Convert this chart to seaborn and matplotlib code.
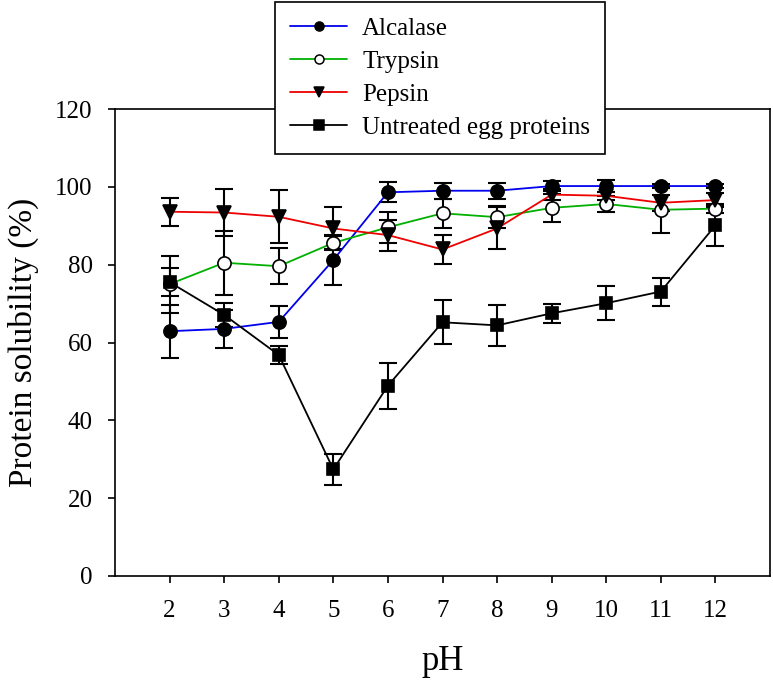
import numpy as np
import pandas as pd
import matplotlib
matplotlib.use("Agg")
import matplotlib.pyplot as plt
import seaborn as sns
from matplotlib.lines import Line2D

ph = [2, 3, 4, 5, 6, 7, 8, 9, 10, 11, 12]
alcalase = [62.9, 63.5, 65.3, 81.2, 98.6, 99.0, 99.0, 100.2, 100.2, 100.2, 100.2]
alcalase_err = [6.8, 4.8, 4.1, 6.4, 2.6, 2.0, 2.0, 1.2, 1.5, 0.6, 0.6]
trypsin = [75.0, 80.5, 79.6, 85.6, 89.6, 93.2, 92.2, 94.6, 95.6, 94.1, 94.4]
trypsin_err = [7.3, 8.2, 4.6, 1.8, 4.0, 3.8, 2.8, 3.6, 2.1, 6.0, 1.2]
pepsin = [93.6, 93.4, 92.3, 89.3, 87.6, 83.9, 89.3, 98.0, 97.7, 95.9, 96.6]
pepsin_err = [3.6, 6.1, 6.8, 5.4, 4.0, 3.7, 5.4, 1.5, 1.0, 2.0, 1.9]
untreated = [75.5, 67.1, 56.8, 27.4, 48.9, 65.2, 64.4, 67.5, 70.1, 73.1, 90.1]
untreated_err = [3.6, 3.0, 2.2, 4.0, 5.9, 5.6, 5.3, 2.4, 4.3, 3.6, 5.3]

series_names = ["Alcalase", "Trypsin", "Pepsin", "Untreated egg proteins"]
x_ticks = [2, 3, 4, 5, 6, 7, 8, 9, 10, 11, 12]
y_ticks = [0, 20, 40, 60, 80, 100, 120]

sns.set_style("ticks")
plt.rcParams["font.family"] = ["Liberation Serif", "DejaVu Serif"]
plt.rcParams["text.color"] = "black"
plt.rcParams["axes.labelcolor"] = "black"
plt.rcParams["xtick.color"] = "black"
plt.rcParams["ytick.color"] = "black"
plt.rcParams["axes.edgecolor"] = "black"

fig = plt.figure(figsize=(7.73, 6.89), dpi=100)
ax = fig.add_axes([115 / 773, 1 - 576 / 689, 655 / 773, 467 / 689])

styles = [
    (alcalase, alcalase_err, "#0000ee", "o", "black", 9.5),
    (trypsin, trypsin_err, "#00b000", "o", "white", 9.5),
    (pepsin, pepsin_err, "#ee0000", "v", "black", 9.5),
    (untreated, untreated_err, "black", "s", "black", 8.5),
]

for i, (name, (vals, err, col, mk, fc, ms)) in enumerate(zip(series_names, styles)):
    df = pd.DataFrame({"pH": ph, "val": vals})
    ax.errorbar(ph, vals, yerr=err, fmt="none", ecolor="black",
                elinewidth=1.5, capsize=6.5, capthick=1.5, zorder=2 + i * 0.1)
    sns.lineplot(data=df, x="pH", y="val", ax=ax, color=col, linewidth=1.3,
                 marker=mk, markersize=ms,
                 markerfacecolor=fc, markeredgecolor="black", markeredgewidth=1.2,
                 zorder=3 + i * 0.1, label=name, legend=False)

handles = []
for name, (vals, err, col, mk, fc, ms) in zip(series_names, styles):
    handles.append(Line2D([0], [0], color=col, lw=1.3, marker=mk, markersize=6.5,
                          markerfacecolor=fc, markeredgecolor="black", markeredgewidth=1.1))

ax.set_xlim(1, 13)
ax.set_ylim(0, 120)
ax.set_xticks(x_ticks)
ax.set_yticks(y_ticks)
ax.tick_params(axis="both", direction="out", labelsize=18, width=1.2, length=5)
ax.tick_params(axis="x", pad=12)
ax.tick_params(axis="y", pad=11)
for s in ax.spines.values():
    s.set_visible(True)
    s.set_linewidth(1.2)
    s.set_color("black")

ax.set_xlabel("pH", fontsize=25, labelpad=17)
ax.set_ylabel("Protein solubility (%)", fontsize=24, labelpad=12)

leg = fig.legend(handles, series_names, loc="upper center", bbox_to_anchor=(440 / 773, 0.997),
                 fontsize=18, frameon=True, fancybox=False, edgecolor="black",
                 framealpha=1, handlelength=2.3, handletextpad=0.6, labelspacing=0.42,
                 borderpad=0.6, borderaxespad=0)
leg.get_frame().set_linewidth(1.2)

fig.savefig("out.png", dpi=100)
